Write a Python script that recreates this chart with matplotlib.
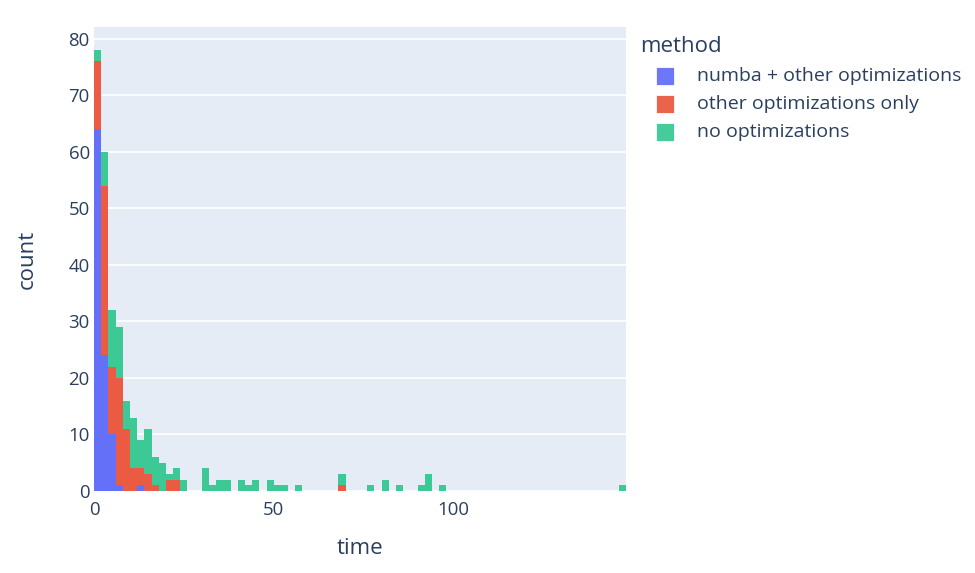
import matplotlib
matplotlib.use('Agg')
import matplotlib.pyplot as plt
from matplotlib.patches import Rectangle
import numpy as np

# histogram bins: width 2, from 0 to 148
bin_width = 2
bin_edges = np.arange(0, 150, bin_width)

# non-empty bins (left edge) and counts for each method
numba_bins = [0, 2, 4, 6, 12]
numba_counts = [64, 24, 10, 1, 1]

other_bins = [0, 2, 4, 6, 8, 10, 12, 14, 16, 20, 22, 68]
other_counts = [12, 30, 12, 19, 11, 4, 3, 3, 1, 2, 2, 1]

noopt_bins = [0, 2, 4, 6, 8, 10, 12, 14, 16, 18, 20, 22, 24, 30, 32, 34, 36,
              40, 42, 44, 48, 50, 52, 56, 68, 76, 80, 84, 90, 92, 96, 146]
noopt_counts = [2, 6, 10, 9, 5, 9, 5, 8, 5, 5, 1, 2, 2, 4, 1, 2, 2,
                2, 1, 2, 2, 1, 1, 1, 2, 1, 2, 1, 1, 3, 1, 1]

methods = ['numba + other optimizations', 'other optimizations only', 'no optimizations']
colors = ['#6570F8', '#EB5B43', '#3CC995']
text_color = '#2a3f5f'

plt.rcParams['font.family'] = ['Open Sans', 'DejaVu Sans']


def to_full(bins, counts):
    full = np.zeros(len(bin_edges) - 1)
    for b, c in zip(bins, counts):
        full[int(b // bin_width)] = c
    return full


series = [to_full(numba_bins, numba_counts),
          to_full(other_bins, other_counts),
          to_full(noopt_bins, noopt_counts)]

fig = plt.figure(figsize=(9.75, 5.73), dpi=100)
ax = fig.add_axes([94 / 975, 1 - 491 / 573, (626 - 94) / 975, (491 - 27) / 573])
ax.set_facecolor('#E5ECF6')

bottom = np.zeros(len(bin_edges) - 1)
for values, color in zip(series, colors):
    ax.bar(bin_edges[:-1], values, width=bin_width, bottom=bottom, align='edge',
           color=color, linewidth=0, zorder=2)
    bottom += values

ax.set_xlim(0, 148)
ax.set_ylim(0, bottom.max() * 1.0526)
ax.set_yticks(range(0, 81, 10))
ax.set_xticks([0, 50, 100])
ax.yaxis.grid(True, color='white', linewidth=1.2, zorder=1)
ax.xaxis.grid(False)
ax.set_axisbelow(True)
for s in ax.spines.values():
    s.set_visible(False)
ax.tick_params(length=0, labelsize=13.4, colors=text_color)
ax.tick_params(axis='y', pad=3)
ax.tick_params(axis='x', pad=7)

ax.set_xlabel('time', fontsize=16, color=text_color, labelpad=14)
ax.set_ylabel('count', fontsize=16, color=text_color, labelpad=22)

# legend
fig.text(640 / 975, 1 - 46 / 573, 'method', fontsize=16, color=text_color,
         va='center', ha='left')
row_y = [76, 104, 132]
for label, color, y in zip(methods, colors, row_y):
    fig.add_artist(Rectangle((656 / 975, 1 - (y + 8.5) / 573), 18 / 975, 17 / 573,
                             transform=fig.transFigure, facecolor=color,
                             edgecolor='white', linewidth=0.6, alpha=0.95))
    fig.text(697 / 975, 1 - y / 573, label, fontsize=14, color=text_color,
             va='center', ha='left')

fig.savefig('out.png', dpi=100)
